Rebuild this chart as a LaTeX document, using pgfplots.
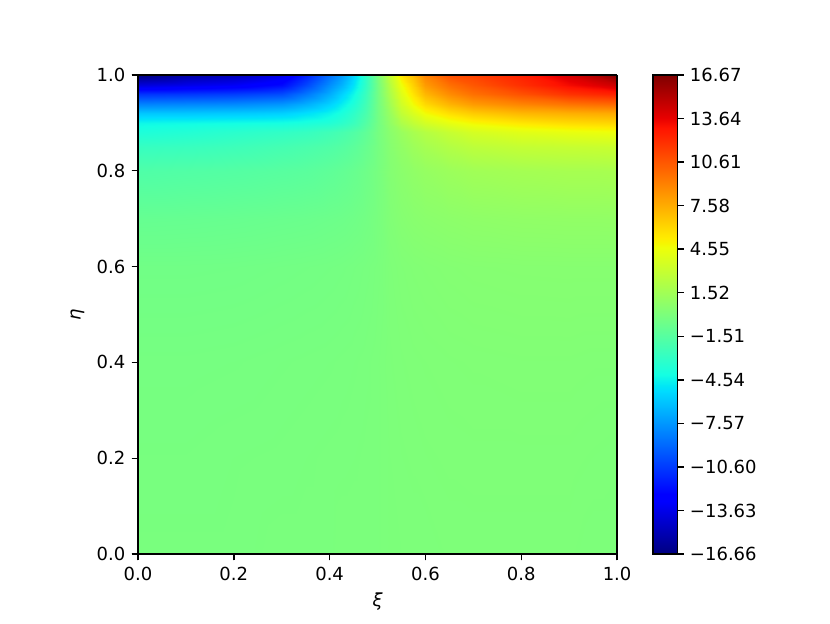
\documentclass[border=0pt]{standalone}
\usepackage{fontspec}
\setmainfont{DejaVu Sans}
\usepackage{pgfplots}
\pgfplotsset{compat=1.18}
\pgfplotsset{colormap={mjet}{rgb(0pt)=(0,0,0.5) rgb(110pt)=(0,0,1) rgb(125pt)=(0,0,1) rgb(340pt)=(0,0.86,1) rgb(350pt)=(0,0.9,0.9677) rgb(375pt)=(0.0806,1,0.8871) rgb(640pt)=(0.9355,1,0.0323) rgb(650pt)=(0.9677,0.963,0) rgb(660pt)=(1,0.9259,0) rgb(890pt)=(1,0.0741,0) rgb(910pt)=(0.9091,0,0) rgb(1000pt)=(0.5,0,0)}}
\begin{document}
\begin{tikzpicture}[font=\fontsize{10}{12}\selectfont]
\begin{axis}[
  scale only axis, width=266pt, height=266pt,
  view={0}{90},
  xmin=0, xmax=1, ymin=0, ymax=1,
  colormap name=mjet,
  point meta min=-16.66, point meta max=16.67,
  axis on top,
  axis line style={line width=0.8pt},
  tick align=outside, xtick pos=left, ytick pos=left,
  major tick length=3.5pt,
  every tick/.style={black, line width=0.8pt},
  xtick={0,0.2,0.4,0.6,0.8,1.0},
  xticklabels={0.0,0.2,0.4,0.6,0.8,1.0},
  ytick={0,0.2,0.4,0.6,0.8,1.0},
  yticklabels={0.0,0.2,0.4,0.6,0.8,1.0},
  xlabel={\itshape ξ}, ylabel={\itshape η},
  colorbar,
  colorbar style={
    at={(parent axis.north east)}, anchor=north west, xshift=11.3pt,
    width=13.6pt,
    axis line style={line width=0.8pt},
    tick align=outside, major tick length=3.5pt, ytick pos=right,
    every tick/.style={black, line width=0.8pt},
    ytick={-16.66,-13.63,-10.60,-7.57,-4.54,-1.51,1.52,4.55,7.58,10.61,13.64,16.67},
    yticklabels={−16.66,−13.63,−10.60,−7.57,−4.54,−1.51,1.52,4.55,7.58,10.61,13.64,16.67},
  },
]
\addplot3[surf, shader=interp, mesh/cols=20] table[x=x, y=y, z=z] {
x y z
0 0 -0.1
0.1 0 -0.1
0.2 0 -0.1
0.3 0 -0.05
0.35 0 -0.05
0.4 0 -0.05
0.425 0 0
0.45 0 0
0.475 0 0
0.5 0 0
0.525 0 0.05
0.55 0 0.05
0.575 0 0.05
0.6 0 0.05
0.65 0 0.1
0.7 0 0.1
0.8 0 0.1
0.9 0 0.1
0.95 0 0.05
1.0 0 0.05
0 0.2 -0.15
0.1 0.2 -0.15
0.2 0.2 -0.12
0.3 0.2 -0.1
0.35 0.2 -0.08
0.4 0.2 -0.06
0.425 0.2 -0.05
0.45 0.2 -0.04
0.475 0.2 -0.02
0.5 0.2 0
0.525 0.2 0.05
0.55 0.2 0.08
0.575 0.2 0.1
0.6 0.2 0.12
0.65 0.2 0.14
0.7 0.2 0.15
0.8 0.2 0.15
0.9 0.2 0.15
0.95 0.2 0.12
1.0 0.2 0.1
0 0.4 -0.22
0.1 0.4 -0.22
0.2 0.4 -0.2
0.3 0.4 -0.16
0.35 0.4 -0.14
0.4 0.4 -0.12
0.425 0.4 -0.1
0.45 0.4 -0.08
0.475 0.4 -0.05
0.5 0.4 0
0.525 0.4 0.08
0.55 0.4 0.12
0.575 0.4 0.15
0.6 0.4 0.17
0.65 0.4 0.2
0.7 0.4 0.22
0.8 0.4 0.24
0.9 0.4 0.24
0.95 0.4 0.22
1.0 0.4 0.22
0 0.6 -0.42
0.1 0.6 -0.42
0.2 0.6 -0.4
0.3 0.6 -0.35
0.35 0.6 -0.32
0.4 0.6 -0.28
0.425 0.6 -0.25
0.45 0.6 -0.2
0.475 0.6 -0.14
0.5 0.6 -0.05
0.525 0.6 0.12
0.55 0.6 0.2
0.575 0.6 0.26
0.6 0.6 0.3
0.65 0.6 0.36
0.7 0.6 0.4
0.8 0.6 0.43
0.9 0.6 0.44
0.95 0.6 0.44
1.0 0.6 0.44
0 0.7 -0.88
0.1 0.7 -0.85
0.2 0.7 -0.8
0.3 0.7 -0.72
0.35 0.7 -0.68
0.4 0.7 -0.6
0.425 0.7 -0.55
0.45 0.7 -0.46
0.475 0.7 -0.32
0.5 0.7 -0.1
0.525 0.7 0.22
0.55 0.7 0.4
0.575 0.7 0.52
0.6 0.7 0.6
0.65 0.7 0.7
0.7 0.7 0.78
0.8 0.7 0.85
0.9 0.7 0.88
0.95 0.7 0.88
1.0 0.7 0.9
0 0.8 -1.8
0.1 0.8 -1.7
0.2 0.8 -1.6
0.3 0.8 -1.45
0.35 0.8 -1.35
0.4 0.8 -1.15
0.425 0.8 -1.0
0.45 0.8 -0.8
0.475 0.8 -0.52
0.5 0.8 -0.15
0.525 0.8 0.35
0.55 0.8 0.62
0.575 0.8 0.85
0.6 0.8 1.05
0.65 0.8 1.3
0.7 0.8 1.5
0.8 0.8 1.65
0.9 0.8 1.75
0.95 0.8 1.75
1.0 0.8 1.8
0 0.85 -2.8
0.1 0.85 -2.7
0.2 0.85 -2.5
0.3 0.85 -2.2
0.35 0.85 -2.0
0.4 0.85 -1.75
0.425 0.85 -1.55
0.45 0.85 -1.25
0.475 0.85 -0.8
0.5 0.85 -0.2
0.525 0.85 0.45
0.55 0.85 0.9
0.575 0.85 1.35
0.6 0.85 1.7
0.65 0.85 2.2
0.7 0.85 2.6
0.8 0.85 2.9
0.9 0.85 3.0
0.95 0.85 3.05
1.0 0.85 3.1
0 0.88 -3.8
0.1 0.88 -3.6
0.2 0.88 -3.3
0.3 0.88 -3.0
0.35 0.88 -2.8
0.4 0.88 -2.4
0.425 0.88 -2.1
0.45 0.88 -1.7
0.475 0.88 -1.1
0.5 0.88 -0.2
0.525 0.88 0.6
0.55 0.88 1.2
0.575 0.88 1.8
0.6 0.88 2.3
0.65 0.88 3.0
0.7 0.88 3.6
0.8 0.88 4.1
0.9 0.88 4.4
0.95 0.88 4.5
1.0 0.88 4.6
0 0.9 -4.4
0.1 0.9 -4.3
0.2 0.9 -4.2
0.3 0.9 -4.1
0.35 0.9 -3.9
0.4 0.9 -3.6
0.425 0.9 -3.2
0.45 0.9 -2.6
0.475 0.9 -1.6
0.5 0.9 -0.3
0.525 0.9 0.9
0.55 0.9 2.0
0.575 0.9 2.8
0.6 0.9 3.5
0.65 0.9 4.3
0.7 0.9 4.9
0.8 0.9 5.5
0.9 0.9 5.9
0.95 0.9 6.0
1.0 0.9 6.1
0 0.92 -6.0
0.1 0.92 -6.0
0.2 0.92 -5.9
0.3 0.92 -5.7
0.35 0.92 -5.2
0.4 0.92 -4.5
0.425 0.92 -3.9
0.45 0.92 -3.1
0.475 0.92 -2.0
0.5 0.92 -0.3
0.525 0.92 1.2
0.55 0.92 2.8
0.575 0.92 3.8
0.6 0.92 4.8
0.65 0.92 5.8
0.7 0.92 6.5
0.8 0.92 7.2
0.9 0.92 7.5
0.95 0.92 7.6
1.0 0.92 7.7
0 0.94 -8.2
0.1 0.94 -8.1
0.2 0.94 -8.0
0.3 0.94 -7.6
0.35 0.94 -6.8
0.4 0.94 -5.6
0.425 0.94 -4.7
0.45 0.94 -3.7
0.475 0.94 -2.3
0.5 0.94 -0.3
0.525 0.94 1.6
0.55 0.94 3.4
0.575 0.94 4.8
0.6 0.94 6.0
0.65 0.94 7.3
0.7 0.94 8.2
0.8 0.94 9.0
0.9 0.94 9.6
0.95 0.94 9.8
1.0 0.94 10.0
0 0.96 -10.8
0.1 0.96 -10.7
0.2 0.96 -10.5
0.3 0.96 -10.0
0.35 0.96 -8.6
0.4 0.96 -6.8
0.425 0.96 -5.6
0.45 0.96 -4.3
0.475 0.96 -2.6
0.5 0.96 -0.3
0.525 0.96 2.0
0.55 0.96 4.0
0.575 0.96 5.6
0.6 0.96 7.2
0.65 0.96 8.7
0.7 0.96 9.7
0.8 0.96 10.8
0.9 0.96 11.9
0.95 0.96 12.2
1.0 0.96 12.5
0 0.98 -14.0
0.1 0.98 -13.6
0.2 0.98 -13.2
0.3 0.98 -12.2
0.35 0.98 -10.2
0.4 0.98 -7.8
0.425 0.98 -6.6
0.45 0.98 -5.0
0.475 0.98 -2.9
0.5 0.98 -0.2
0.525 0.98 2.4
0.55 0.98 4.6
0.575 0.98 6.3
0.6 0.98 8.2
0.65 0.98 9.7
0.7 0.98 10.6
0.8 0.98 12.0
0.9 0.98 13.3
0.95 0.98 13.8
1.0 0.98 14.5
0 1.0 -16.66
0.1 1.0 -15.6
0.2 1.0 -15.0
0.3 1.0 -13.6
0.35 1.0 -11.5
0.4 1.0 -8.8
0.425 1.0 -7.4
0.45 1.0 -5.5
0.475 1.0 -3.0
0.5 1.0 0.0
0.525 1.0 3.0
0.55 1.0 5.5
0.575 1.0 7.0
0.6 1.0 9.0
0.65 1.0 10.8
0.7 1.0 11.3
0.8 1.0 12.5
0.9 1.0 14.2
0.95 1.0 15.2
1.0 1.0 16.67
};
\end{axis}
\path (-76.6pt,-38.3pt) rectangle (384.2pt,307.6pt);
\end{tikzpicture}
\end{document}
